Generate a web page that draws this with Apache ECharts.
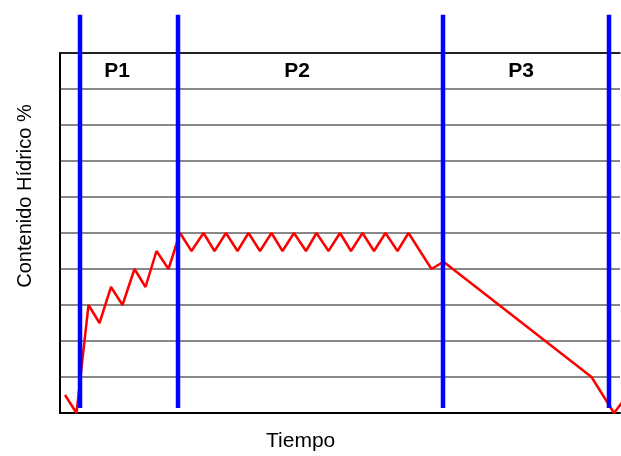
<!DOCTYPE html>
<html><head><meta charset="utf-8">
<script src="https://cdn.jsdelivr.net/npm/echarts@6/dist/echarts.min.js"></script>
<style>html,body{margin:0;padding:0;background:#fff}#c{width:621px;height:456px}</style>
</head><body><div id="c"></div>
<script>
// Time (arbitrary units) and water content (%)
const timeValues = [1.0, 3.3, 5.7, 7.9, 10.2, 12.5, 14.9, 17.1, 19.3, 21.7, 24.0,
  26.3, 28.7, 30.9, 33.2, 35.5, 37.7, 40.0, 42.3, 44.5, 46.8, 49.2, 51.3, 53.7, 56.0,
  58.2, 60.5, 62.8, 65.1, 67.5, 69.7, 74.3, 76.7, 106.3, 110.8, 113.0];
const waterValues = [5, 0, 30, 25, 35, 30, 40, 35, 45, 40, 50,
  45, 50, 45, 50, 45, 50, 45, 50, 45, 50, 45, 50, 45, 50,
  45, 50, 45, 50, 45, 50, 40, 42, 10, 0, 4];
const phaseBoundaries = [4.0, 23.6, 76.6, 109.8];
const phaseLabels = ['P1', 'P2', 'P3'];
const phaseLabelX = [11.4, 47.4, 92.2];
const phaseLabelY = 95;
const boundaryRange = [1.4, 110.6];
const yTicks = [0, 10, 20, 30, 40, 50, 60, 70, 80, 90, 100];

const chart = echarts.init(document.getElementById('c'));
const series = [{
  type: 'line',
  data: timeValues.map((t, i) => [t, waterValues[i]]),
  showSymbol: false,
  lineStyle: {color: '#ff0000', width: 2.5},
  clip: true,
  z: 3,
  animation: false
}];
phaseBoundaries.forEach(b => {
  series.push({
    type: 'line',
    data: [[b, boundaryRange[0]], [b, boundaryRange[1]]],
    showSymbol: false,
    lineStyle: {color: '#0000ff', width: 4.5, cap: 'butt'},
    clip: false,
    z: 5,
    animation: false
  });
});

chart.setOption({
  animation: false,
  grid: {left: 60, top: 53, width: 560, height: 360},
  xAxis: [{
    type: 'value', min: 0, max: 112,
    axisLine: {show: true, lineStyle: {color: '#000', width: 2}},
    axisTick: {show: false}, axisLabel: {show: false}, splitLine: {show: false}
  }, {
    type: 'value', min: 0, max: 112, position: 'top',
    axisLine: {show: true, lineStyle: {color: '#000', width: 1.5}},
    axisTick: {show: false}, axisLabel: {show: false}, splitLine: {show: false}
  }],
  yAxis: {
    type: 'value', min: yTicks[0], max: yTicks[yTicks.length - 1], interval: 10,
    axisLine: {show: true, lineStyle: {color: '#000', width: 2}},
    axisTick: {show: false}, axisLabel: {show: false},
    splitLine: {show: true, lineStyle: {color: '#606060', width: 1.5}}
  },
  graphic: [{
    type: 'text', x: 266, y: 431,
    style: {text: 'Tiempo', font: '21px "Liberation Sans", Arial', fill: '#000'}
  }, {
    type: 'text', x: 15, y: 196, rotation: Math.PI / 2,
    style: {text: 'Contenido Hídrico %', font: '20px "Liberation Sans", Arial', fill: '#000',
      align: 'center', verticalAlign: 'top'}
  }],
  series: series
});

const labelGraphics = phaseLabels.map((txt, i) => {
  const p = chart.convertToPixel({xAxisIndex: 0, yAxisIndex: 0}, [phaseLabelX[i], phaseLabelY]);
  return {
    type: 'text', x: p[0], y: p[1], z: 10,
    style: {text: txt, font: 'bold 21px "Liberation Sans", Arial', fill: '#000',
      align: 'center', verticalAlign: 'middle'}
  };
});
chart.setOption({graphic: labelGraphics.map((g, i) => Object.assign({id: 'pl' + i}, g))});
</script></body></html>
